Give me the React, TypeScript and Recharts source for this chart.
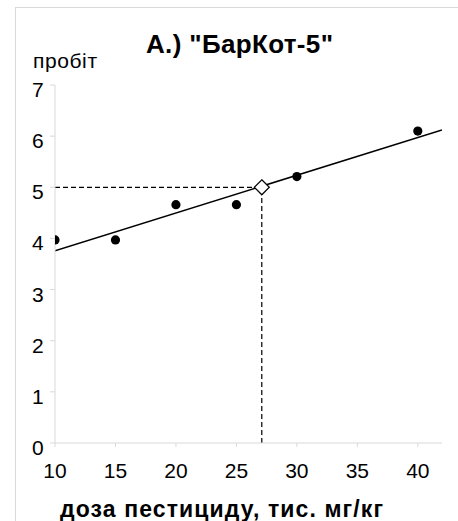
import { ComposedChart, Line, Scatter, XAxis, YAxis } from 'recharts'

const DOSES = [10, 15, 20, 25, 30, 40]
const PROBITS = [3.97, 3.97, 4.66, 4.66, 5.21, 6.1]
const FIT_X = [10, 42]
const FIT_Y = [3.76, 6.12]
const LD50_X = 27.1
const LD50_Y = 5
const X_TICKS = [10, 15, 20, 25, 30, 35, 40]
const Y_TICKS = [0, 1, 2, 3, 4, 5, 6, 7]
const TITLE = 'А.) "БарКот-5"'
const Y_LABEL = 'пробіт'
const X_LABEL = 'доза пестициду, тис. мг/кг'

const points = DOSES.map((x, i) => ({ x, y: PROBITS[i] }))
const fit = FIT_X.map((x, i) => ({ x, y: FIT_Y[i] }))
const hGuide = [{ x: X_TICKS[0], y: LD50_Y }, { x: LD50_X, y: LD50_Y }]
const vGuide = [{ x: LD50_X, y: 0 }, { x: LD50_X, y: LD50_Y }]
const ld50 = [{ x: LD50_X, y: LD50_Y }]

const FONT = '"Liberation Sans", Arial, sans-serif'
const GRID = '#d9d9d9'

function Diamond (props: { cx?: number; cy?: number }) {
  const { cx, cy } = props
  if (cx == null || cy == null) return null
  const r = 7.5
  return (
    <polygon
      points={`${cx},${cy - r} ${cx + r},${cy} ${cx},${cy + r} ${cx - r},${cy}`}
      fill="#fff" stroke="#000" strokeWidth={1.2}
    />
  )
}

function Dot (props: { cx?: number; cy?: number }) {
  const { cx, cy } = props
  if (cx == null || cy == null) return null
  return <circle cx={cx} cy={cy} r={4.6} fill="#000" />
}

function YTick (props: { x?: number; y?: number; payload?: { value: number } }) {
  const { y, payload } = props
  if (y == null || !payload) return null
  return (
    <text x={32} y={y + 12} textAnchor="start" fontSize={21} fontFamily={FONT} fill="#000">
      {payload.value}
    </text>
  )
}

export default function App () {
  return (
    <div style={{ position: 'absolute', left: 0, top: 0, width: 458, height: 521, background: '#fff', overflow: 'hidden' }}>
      <div style={{ position: 'absolute', left: 15, top: 7, width: 443, height: 514, borderLeft: `1px solid ${GRID}`, borderTop: `1px solid ${GRID}` }} />
      <div style={{ position: 'absolute', left: 0, top: 0 }}>
        <ComposedChart width={458} height={521} margin={{ top: 85, right: 16, bottom: 48, left: 15 }}>
          <XAxis
            dataKey="x" type="number" domain={[10, 42]} ticks={X_TICKS} allowDataOverflow
            stroke={GRID} tickLine={{ stroke: GRID }} tickSize={4} height={30}
            tick={{ fontSize: 21, fontFamily: FONT, fill: '#000', dy: 14 }}
          />
          <YAxis
            dataKey="y" type="number" domain={[0, 7]} ticks={Y_TICKS} allowDataOverflow
            stroke={GRID} tickLine={{ stroke: GRID }} tickSize={5} width={40}
            tick={(p: any) => <YTick {...p} />}
          />
          <Line data={hGuide} dataKey="y" stroke="#000" strokeWidth={1.2} strokeDasharray="5 3" dot={false} isAnimationActive={false} />
          <Line data={vGuide} dataKey="y" stroke="#000" strokeWidth={1.2} strokeDasharray="5 3" dot={false} isAnimationActive={false} />
          <Line data={fit} dataKey="y" stroke="#000" strokeWidth={1.5} dot={false} isAnimationActive={false} />
          <Scatter data={points} dataKey="y" shape={(p: any) => <Dot {...p} />} isAnimationActive={false} />
          <Scatter data={ld50} dataKey="y" shape={(p: any) => <Diamond {...p} />} isAnimationActive={false} />
          <text x={146} y={53} textLength={187} lengthAdjust="spacing" fontSize={26} fontWeight={700} fontFamily={FONT} fill="#000">{TITLE}</text>
          <text x={33} y={68} textLength={64} lengthAdjust="spacing" fontSize={21} fontFamily={FONT} fill="#000">{Y_LABEL}</text>
          <text x={60} y={517} textLength={323} lengthAdjust="spacing" fontSize={23} fontWeight={700} fontFamily={FONT} fill="#000">{X_LABEL}</text>
        </ComposedChart>
      </div>
    </div>
  )
}
